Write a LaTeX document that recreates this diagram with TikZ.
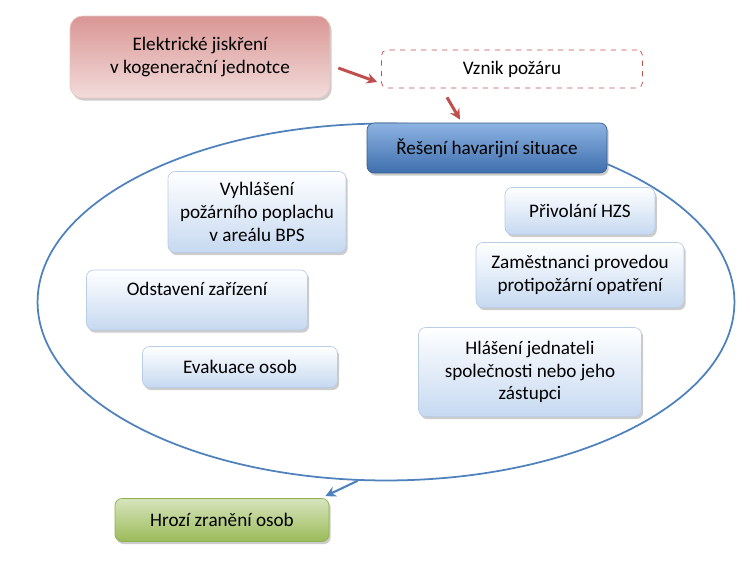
\documentclass[tikz,border=0pt]{standalone}
\usepackage{fontspec}
\setmainfont{Carlito}
\usetikzlibrary{arrows.meta,shapes.geometric,shadows}
\definecolor{pinktop}{HTML}{D99694}
\definecolor{pinkbot}{HTML}{F2DCDB}
\definecolor{pinkline}{HTML}{C0504D}
\definecolor{bluetop}{HTML}{8DB3E2}
\definecolor{bluebot}{HTML}{3F6FAE}
\definecolor{blueline}{HTML}{385D8A}
\definecolor{paletop}{HTML}{FFFFFF}
\definecolor{palebot}{HTML}{C6D9F1}
\definecolor{paleline}{HTML}{B9CDE5}
\definecolor{greentop}{HTML}{D7E4BD}
\definecolor{greenbot}{HTML}{9BBB59}
\definecolor{greenline}{HTML}{8EB04E}
\definecolor{ringblue}{HTML}{4F81BD}
\definecolor{arrred}{HTML}{C0504D}

\begin{document}
\begin{tikzpicture}[
    x=0.02cm, y=-0.02cm,
    txt/.style={font=\fontsize{10.9}{12.9}\selectfont, align=center, inner sep=0pt},
    shad/.style={drop shadow={shadow xshift=1pt, shadow yshift=-1.5pt, fill=black!40}},
    palebox/.style={txt, shad, rounded corners=4pt, draw=paleline, top color=paletop, bottom color=palebot},
    causebox/.style={txt, shad, rounded corners=7pt, draw=pinkbot!70!pinktop, top color=pinktop, bottom color=pinkbot},
    firebox/.style={txt, rounded corners=3pt, draw=pinkline, dashed, fill=white},
    solvebox/.style={txt, shad, rounded corners=4pt, draw=blueline, top color=bluetop, bottom color=bluebot},
    harmbox/.style={txt, shad, rounded corners=4pt, draw=greenline, top color=greentop, bottom color=greenbot},
    redarr/.style={draw=arrred, line width=1.7pt, -{Stealth[length=6pt, width=6pt]}},
    bluearr/.style={draw=ringblue, line width=1.2pt, -{Stealth[length=6pt, width=6pt]}}
]
\useasboundingbox (0,0) rectangle (750,568);

% zone of the emergency response
\node[ellipse, draw=ringblue, line width=1pt, minimum width=13.94cm, minimum height=7.14cm, inner sep=0pt] (zone) at (386,302) {};

% cause and fire
\node[causebox, minimum width=5.2cm, minimum height=1.64cm] (spark) at (200,57) {Elektrické jiskření\\v kogenerační jednotce};
\node[firebox, minimum width=5.22cm, minimum height=0.76cm] (fire) at (512,69) {Vznik požáru};
\node[solvebox, minimum width=4.8cm, minimum height=1.0cm] (solve) at (487,148) {Řešení havarijní situace};

% steps inside the zone
\node[palebox, minimum width=3.56cm, minimum height=1.62cm] (alarm) at (257,212) {Vyhlášení\\požárního poplachu\\v areálu BPS};
\node[palebox, minimum width=4.42cm, minimum height=1.2cm] (stop) at (197,300) {Odstavení zařízení\\\mbox{}};
\node[palebox, minimum width=3.9cm, minimum height=0.82cm] (evac) at (240,367) {Evakuace osob};
\node[palebox, minimum width=3.0cm, minimum height=0.94cm] (hzs) at (580,211) {Přivolání HZS};
\node[palebox, minimum width=4.16cm, minimum height=1.3cm] (staff) at (580,275) {Zaměstnanci provedou\\protipožární opatření};
\node[palebox, minimum width=4.46cm, minimum height=1.78cm] (report) at (530,372) {Hlášení jednateli\\společnosti nebo jeho\\zástupci};

% consequence
\node[harmbox, minimum width=4.28cm, minimum height=0.86cm] (harm) at (222,520) {Hrozí zranění osob};

% connectors
\draw[redarr] ([shift={(8,11)}]spark.east) -- ([shift={(-4,13)}]fire.west);
\draw[redarr] ([shift={(-65,9)}]fire.south) -- ([shift={(-27,-3)}]solve.north);
\draw[bluearr] (zone.261) -- ([shift={(-4,-2)}]harm.north east);
\end{tikzpicture}
\end{document}
